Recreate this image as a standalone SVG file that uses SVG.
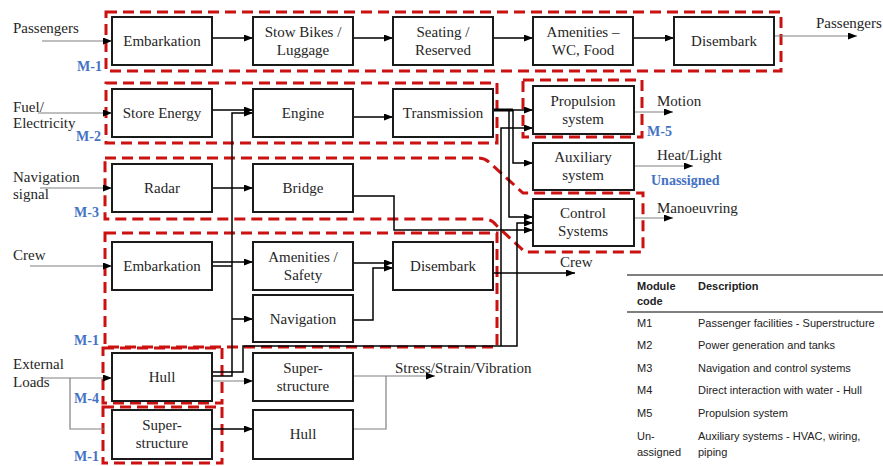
<svg xmlns="http://www.w3.org/2000/svg" width="883" height="466" viewBox="0 0 883 466">
<defs>
<marker id="ah" markerUnits="userSpaceOnUse" markerWidth="9" markerHeight="7" refX="9" refY="3.5" orient="auto"><path d="M0,0 L9,3.5 L0,7 z" fill="#000"/></marker>
<style>
.box{fill:#fff;stroke:#1a1a1a;stroke-width:2}
.t{font-family:"Liberation Serif","Times New Roman",serif;font-size:15px;fill:#262626;text-anchor:middle}
.l{font-family:"Liberation Serif","Times New Roman",serif;font-size:15px;fill:#262626}
.m{font-family:"Liberation Serif","Times New Roman",serif;font-size:14px;font-weight:bold;fill:#4472c4}
.c{fill:none;stroke:#000;stroke-width:1.5}
.g{fill:none;stroke:#808080;stroke-width:1.2}
.a{marker-end:url(#ah)}
.d{fill:none;stroke:#cc1111;stroke-width:3;stroke-dasharray:11 6}
.tb{font-family:"Liberation Sans",Arial,sans-serif;font-size:11px;fill:#222}
.tbh{font-family:"Liberation Sans",Arial,sans-serif;font-size:11px;font-weight:bold;fill:#222}
</style>
</defs>
<rect width="883" height="466" fill="#fff"/>

<g id="modules">
<rect class="d" x="106" y="12" width="675" height="59"/>
<rect class="d" x="106" y="83" width="391" height="60"/>
<rect class="d" x="523" y="80" width="119" height="57"/>
<path class="d" d="M105,158 H478 Q485,158 490,163 L523,193 H643 V252 H525 L497,226 Q492,219 484,219 H105 Z"/>
<rect class="d" x="105" y="233" width="392" height="114"/>
<rect class="d" x="103" y="348" width="119" height="55"/>
<rect class="d" x="103" y="407" width="119" height="56"/>
<text class="m" x="77" y="71">M-1</text>
<text class="m" x="76" y="141">M-2</text>
<text class="m" x="74" y="217">M-3</text>
<text class="m" x="74" y="345">M-1</text>
<text class="m" x="74" y="403">M-4</text>
<text class="m" x="74" y="461">M-1</text>
<text class="m" x="647" y="136">M-5</text>
<text class="m" x="651" y="185">Unassigned</text>
</g>

<g id="connectors">
<path class="c a" d="M212,38 H253"/>
<path class="c a" d="M353,38 H393"/>
<path class="c a" d="M493,38 H533"/>
<path class="c a" d="M633,38 H674"/>
<path class="c a" d="M212,110 H253"/>
<path class="c a" d="M212,376 H232 V113 H253"/>
<path class="c a" d="M353,117 H393"/>
<path class="c a" d="M493,110 H533"/>
<path d="M493,110 H513" stroke="#000" stroke-width="3"/>
<path class="c a" d="M513,110 V163 H533"/>
<path class="c a" d="M509,110 V217 H533"/>
<path class="c a" d="M212,188 H253"/>
<path class="c a" d="M353,196 H394 V230 H533"/>
<path class="c a" d="M212,262 H253"/>
<path class="c" d="M212,266 H232"/>
<path class="c a" d="M232,319 H253"/>
<path class="c a" d="M353,263 H393"/>
<path class="c a" d="M353,320 H373 V268 H393"/>
<path class="c a" d="M493,273 H575"/>
<path class="c a" d="M212,372 H243 V346 H517 V223 H533"/>
<path class="c a" d="M501,346 V128 H533"/>
<path class="c a" d="M212,429 H253"/>
<path class="g a" d="M42,41 H112"/>
<path class="g a" d="M38,113 H112"/>
<path class="g a" d="M40,188 H112"/>
<path class="g a" d="M30,266 H112"/>
<path class="g a" d="M43,378 H112"/>
<path class="g" d="M70,378 V429 H104"/>
<path class="g a" d="M774,36 H857"/>
<path class="g a" d="M634,112 H673"/>
<path class="g a" d="M634,166 H693"/>
<path class="g a" d="M634,218 H673"/>
<path class="g a" d="M212,381 H253"/>
<path class="g a" d="M353,376 H435"/>
<path class="g" d="M353,429 H386 V376"/>
</g>

<g id="labels">
<text class="l" x="13" y="33">Passengers</text>
<text class="l" x="13" y="112">Fuel/</text>
<text class="l" x="13" y="128">Electricity</text>
<text class="l" x="13" y="182">Navigation</text>
<text class="l" x="13" y="199">signal</text>
<text class="l" x="13" y="260">Crew</text>
<text class="l" x="13" y="369">External</text>
<text class="l" x="13" y="387">Loads</text>
<text class="l" x="816" y="28">Passengers</text>
<text class="l" x="657" y="106">Motion</text>
<text class="l" x="657" y="160">Heat/Light</text>
<text class="l" x="657" y="213">Manoeuvring</text>
<text class="l" x="560" y="267">Crew</text>
<text class="l" x="395" y="373">Stress/Strain/Vibration</text>
</g>

<g id="n-p-embark"><rect class="box" x="112" y="17" width="100" height="48"/><text class="t" x="162" y="46">Embarkation</text></g>
<g id="n-stow"><rect class="box" x="253" y="17" width="100" height="48"/><text class="t" x="303" y="37">Stow Bikes /</text><text class="t" x="303" y="55">Luggage</text></g>
<g id="n-seating"><rect class="box" x="393" y="17" width="100" height="48"/><text class="t" x="443" y="37">Seating /</text><text class="t" x="443" y="55">Reserved</text></g>
<g id="n-amen-wc"><rect class="box" x="533" y="17" width="100" height="48"/><text class="t" x="583" y="37">Amenities –</text><text class="t" x="583" y="55">WC, Food</text></g>
<g id="n-p-disembark"><rect class="box" x="674" y="17" width="100" height="48"/><text class="t" x="724" y="46">Disembark</text></g>
<g id="n-store"><rect class="box" x="112" y="89" width="100" height="48"/><text class="t" x="162" y="118">Store Energy</text></g>
<g id="n-engine"><rect class="box" x="253" y="89" width="100" height="48"/><text class="t" x="303" y="118">Engine</text></g>
<g id="n-trans"><rect class="box" x="393" y="89" width="100" height="48"/><text class="t" x="443" y="118">Transmission</text></g>
<g id="n-prop"><rect class="box" x="533" y="86" width="101" height="48"/><text class="t" x="583" y="106">Propulsion</text><text class="t" x="583" y="124">system</text></g>
<g id="n-aux"><rect class="box" x="533" y="143" width="101" height="47"/><text class="t" x="583" y="162">Auxiliary</text><text class="t" x="583" y="180">system</text></g>
<g id="n-ctrl"><rect class="box" x="533" y="199" width="101" height="47"/><text class="t" x="583" y="218">Control</text><text class="t" x="583" y="236">Systems</text></g>
<g id="n-radar"><rect class="box" x="112" y="164" width="100" height="48"/><text class="t" x="162" y="193">Radar</text></g>
<g id="n-bridge"><rect class="box" x="253" y="164" width="100" height="48"/><text class="t" x="303" y="193">Bridge</text></g>
<g id="n-c-embark"><rect class="box" x="112" y="242" width="100" height="48"/><text class="t" x="162" y="271">Embarkation</text></g>
<g id="n-c-amen"><rect class="box" x="253" y="242" width="100" height="48"/><text class="t" x="303" y="262">Amenities /</text><text class="t" x="303" y="280">Safety</text></g>
<g id="n-c-disembark"><rect class="box" x="393" y="242" width="100" height="48"/><text class="t" x="443" y="271">Disembark</text></g>
<g id="n-nav"><rect class="box" x="253" y="295" width="100" height="47"/><text class="t" x="303" y="324">Navigation</text></g>
<g id="n-hull"><rect class="box" x="112" y="353" width="100" height="48"/><text class="t" x="162" y="382">Hull</text></g>
<g id="n-super-r"><rect class="box" x="253" y="353" width="100" height="48"/><text class="t" x="303" y="373">Super-</text><text class="t" x="303" y="391">structure</text></g>
<g id="n-super-l"><rect class="box" x="112" y="410" width="100" height="49"/><text class="t" x="162" y="430">Super-</text><text class="t" x="162" y="448">structure</text></g>
<g id="n-hull-r"><rect class="box" x="253" y="410" width="100" height="49"/><text class="t" x="303" y="439">Hull</text></g>

<g id="table">
<line x1="627" y1="275" x2="883" y2="275" stroke="#7f7f7f" stroke-width="2"/>
<line x1="627" y1="312" x2="883" y2="312" stroke="#7f7f7f" stroke-width="2"/>
<text class="tbh" x="637" y="290">Module</text>
<text class="tbh" x="637" y="305">code</text>
<text class="tbh" x="698" y="290">Description</text>
<text class="tb" x="637" y="327">M1</text><text class="tb" x="698" y="327">Passenger facilities - Superstructure</text>
<text class="tb" x="637" y="349">M2</text><text class="tb" x="698" y="349">Power generation and tanks</text>
<text class="tb" x="637" y="372">M3</text><text class="tb" x="698" y="372">Navigation and control systems</text>
<text class="tb" x="637" y="394">M4</text><text class="tb" x="698" y="394">Direct interaction with water - Hull</text>
<text class="tb" x="637" y="417">M5</text><text class="tb" x="698" y="417">Propulsion system</text>
<text class="tb" x="637" y="440">Un-</text><text class="tb" x="698" y="440">Auxiliary systems - HVAC, wiring,</text>
<text class="tb" x="637" y="456">assigned</text><text class="tb" x="698" y="456">piping</text>
</g>
</svg>
